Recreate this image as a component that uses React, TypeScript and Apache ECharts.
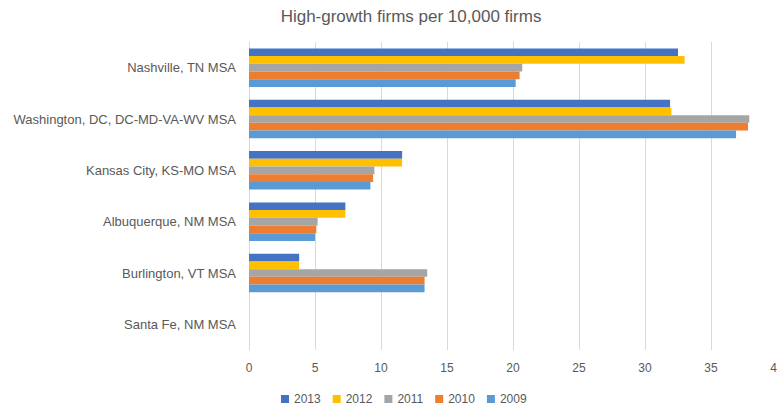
import React, { useEffect, useRef } from "react";
import * as echarts from "echarts";

const categories = [
  "Nashville, TN MSA",
  "Washington, DC, DC-MD-VA-WV MSA",
  "Kansas City, KS-MO MSA",
  "Albuquerque, NM MSA",
  "Burlington, VT MSA",
  "Santa Fe, NM MSA",
];
const years = ["2013", "2012", "2011", "2010", "2009"];
const v2013 = [32.5, 31.9, 11.6, 7.3, 3.8, 0];
const v2012 = [33.0, 32.0, 11.6, 7.3, 3.8, 0];
const v2011 = [20.7, 37.9, 9.5, 5.2, 13.5, 0];
const v2010 = [20.5, 37.8, 9.4, 5.1, 13.3, 0];
const v2009 = [20.2, 36.9, 9.2, 5.0, 13.3, 0];
const seriesValues = [v2013, v2012, v2011, v2010, v2009];
const colors = ["#4472C4", "#FFC000", "#A5A5A5", "#ED7D31", "#5B9BD5"];
const xTicks = { min: 0, max: 40, interval: 5 };

export default function App() {
  const ref = useRef<HTMLDivElement>(null);
  useEffect(() => {
    if (!ref.current) return;
    const chart = echarts.init(ref.current, undefined, { renderer: "svg" });
    const font = "'Liberation Sans', Arial, sans-serif";
    chart.setOption({
      animation: false,
      textStyle: { fontFamily: font },
      title: {
        text: "High-growth firms per 10,000 firms",
        left: 406,
        top: 3,
        textAlign: "center",
        textStyle: { fontSize: 17, fontWeight: "normal", color: "#595959", fontFamily: font },
      },
      legend: {
        data: years,
        left: 276,
        top: 388,
        itemWidth: 8,
        itemHeight: 8,
        itemGap: 12,
        icon: "rect",
        textStyle: { fontSize: 12, color: "#595959", fontFamily: font },
      },
      grid: { left: 249, right: 0, top: 42, bottom: 58, containLabel: false, outerBoundsMode: "none" },
      xAxis: {
        type: "value",
        min: xTicks.min,
        max: xTicks.max,
        interval: xTicks.interval,
        axisLine: { show: false },
        axisTick: { show: false },
        axisLabel: { color: "#595959", fontSize: 12, margin: 12, fontFamily: font },
        splitLine: { lineStyle: { color: "#D9D9D9", width: 1 } },
      },
      yAxis: {
        type: "category",
        data: categories,
        inverse: true,
        axisLine: { show: false },
        axisTick: { show: false },
        axisLabel: { color: "#595959", fontSize: 13, margin: 13, fontFamily: font },
      },
      series: years.map((y, i) => ({
        name: y,
        type: "bar",
        data: seriesValues[i],
        barGap: "0%",
        barCategoryGap: "25%",
        itemStyle: { color: colors[i] },
      })),
    });
    return () => chart.dispose();
  }, []);
  return <div ref={ref} style={{ width: 777, height: 408, position: "absolute", left: 0, top: 0 }} />;
}
